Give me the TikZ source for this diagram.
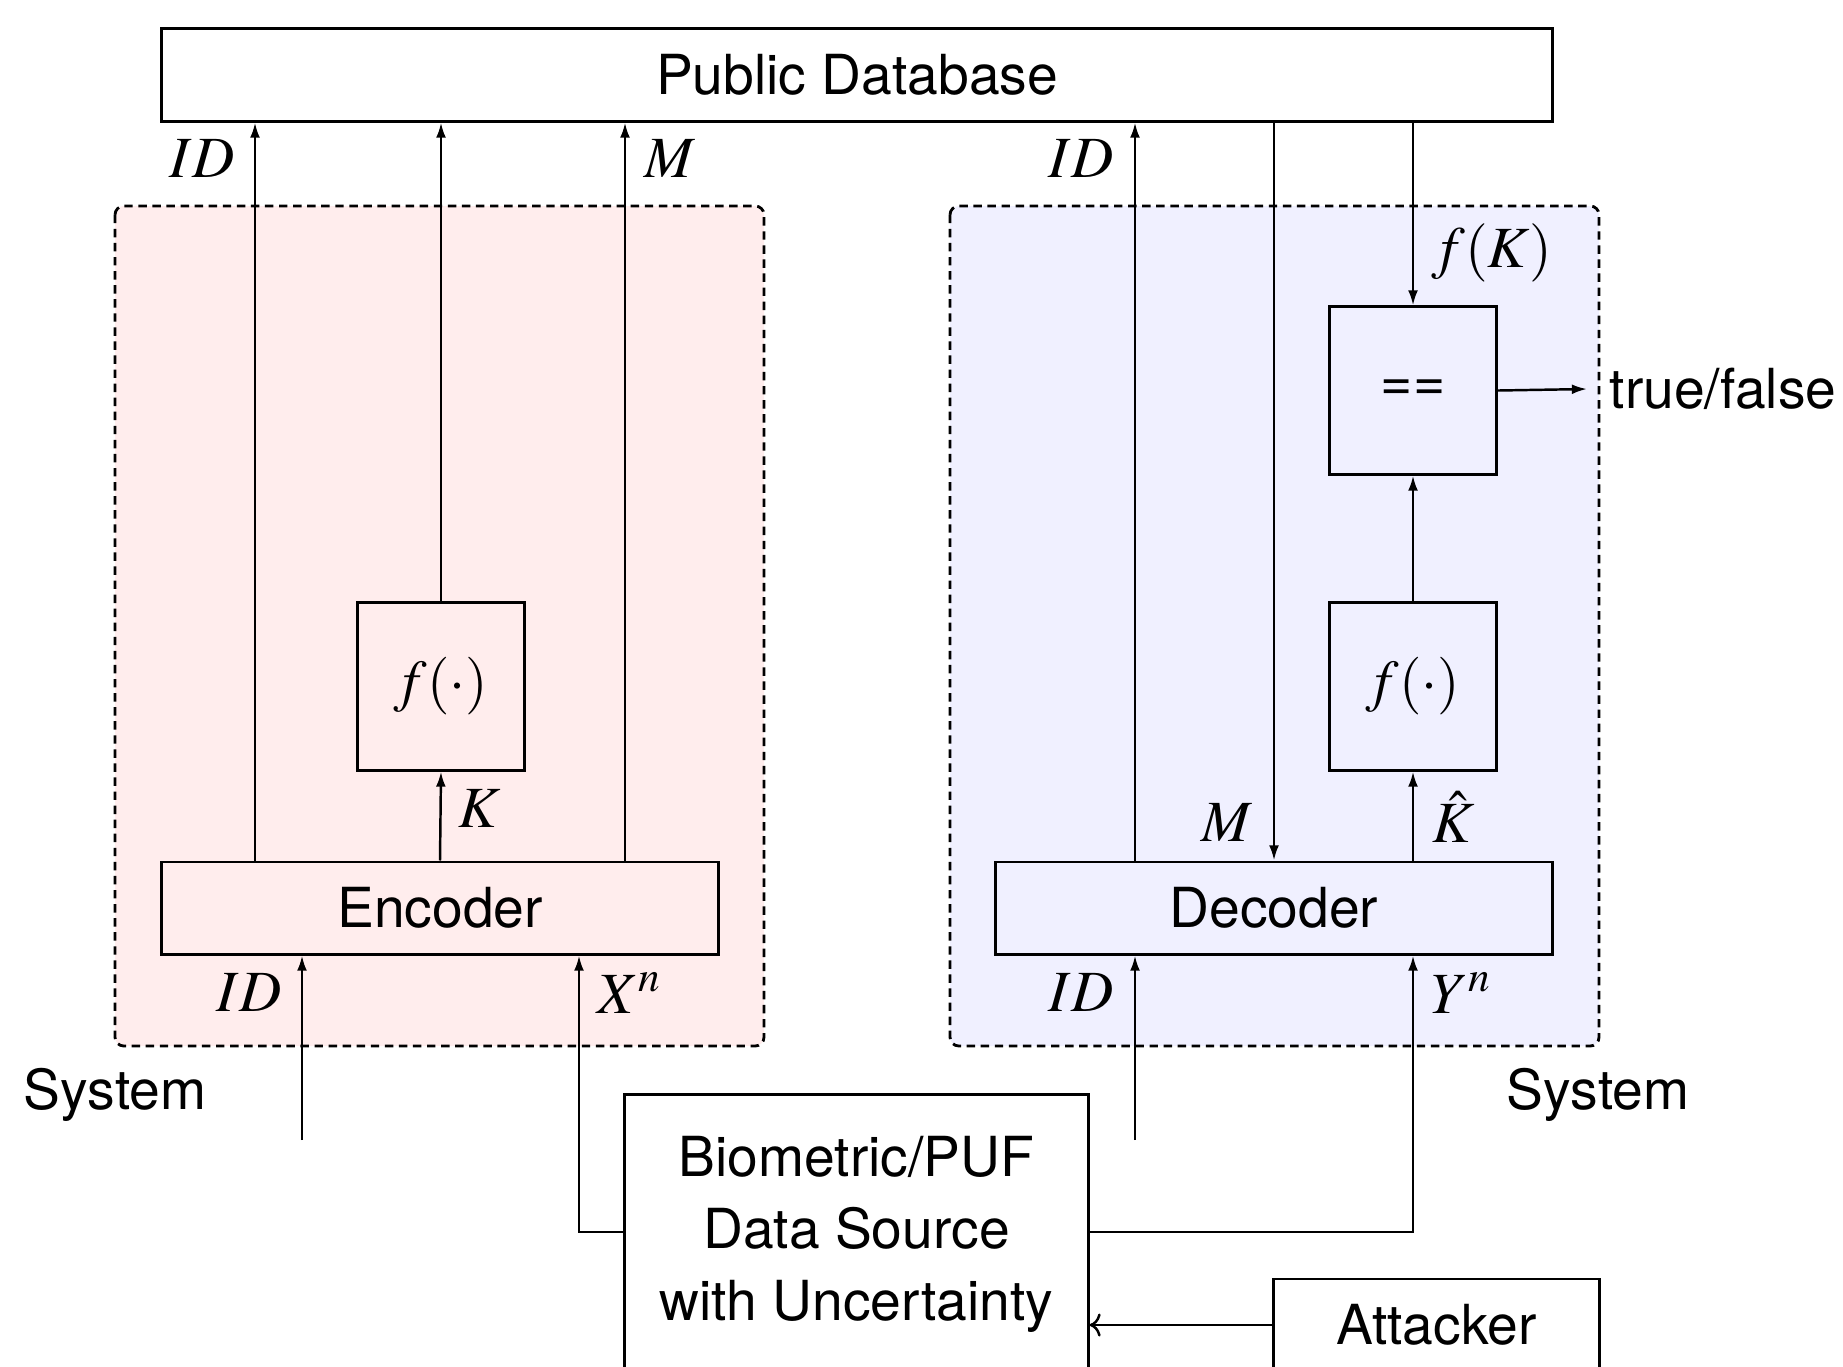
\documentclass[tikz,border=0pt]{standalone}
\usepackage{mathptmx}
\usepackage[no-math]{fontspec}
\setmainfont{TeX Gyre Heros}
\usetikzlibrary{arrows.meta,positioning}

\tikzset{
  blk/.style={draw, line width=0.85pt, inner sep=0pt},
  sig/.style={line width=0.7pt, -{Latex[length=4.3pt,width=2.8pt]}},
  wire/.style={line width=0.7pt},
  sysbox/.style={draw, dashed, dash pattern=on 2.4pt off 1.6pt, line width=0.8pt, rounded corners=2.5pt},
  lbl/.style={inner sep=0pt, font=\fontsize{16.6}{20}\selectfont}
}

\begin{document}
\begin{tikzpicture}[x=0.01cm, y=-0.01cm, font=\fontsize{15.7}{20.5}\selectfont]
\useasboundingbox (0,0) rectangle (1843,1366);
\clip (0,0) rectangle (1843,1366);

% systeme (pozadi)
\draw[sysbox, fill=red!7] (115,206) rectangle (764,1046);
\draw[sysbox, fill=blue!6] (950,206) rectangle (1599,1046);

% bloky
\node[blk, fill=white, minimum width=13.9cm, minimum height=0.92cm] (pubdb) at (857,75) {Public Database};
\node[blk, minimum width=5.56cm, minimum height=0.92cm] (enc) at (440,908) {Encoder};
\node[blk, minimum width=1.67cm, minimum height=1.67cm] (fenc) at (441,686.5) {\fontsize{16.4}{20}\selectfont$f(\cdot)$};
\node[blk, minimum width=5.56cm, minimum height=0.92cm] (dec) at (1274,908) {Decoder};
\node[blk, minimum width=1.67cm, minimum height=1.67cm] (fdec) at (1413,686.5) {\fontsize{16.4}{20}\selectfont$f(\cdot)$};
\node[blk, minimum width=1.67cm, minimum height=1.67cm] (cmp) at (1413,390.5) {==};
\node[blk, anchor=north, minimum width=4.63cm, minimum height=4cm] (src) at (856.5,1093) {};
\node[align=center, inner sep=0pt] (srctxt) at (856.5,1234) {Biometric/PUF\\Data Source\\with Uncertainty};
\node[blk, minimum width=3.25cm, minimum height=0.92cm] (att) at (1436.5,1325) {Attacker};

% pomocne body
\coordinate (idL) at (255,0);
\coordinate (mL) at (625,0);
\coordinate (idR) at (1135,0);
\coordinate (mR) at (1274,0);
\coordinate (idenc) at (302,1140);
\coordinate (iddec) at (1135,1140);
\coordinate (xn) at (579,1232);
\coordinate (out) at (1587,389);

% ... enkoder -> databaze
\draw[sig] (enc.north -| idL) -- (pubdb.south -| idL);
\draw[sig] (enc.north) -- (fenc.south);
\draw[sig] (fenc.north) -- (pubdb.south -| fenc.north);
\draw[sig] (enc.north -| mL) -- (pubdb.south -| mL);

% ... vstupy enkoderu
\draw[sig] (idenc) -- (enc.south -| idenc);
\draw[sig] (src.west |- xn) -- (xn) -- (enc.south -| xn);

% ... dekoder
\draw[sig] (dec.north -| idR) -- (pubdb.south -| idR);
\draw[sig] (pubdb.south -| mR) -- (dec.north -| mR);
\draw[sig] (pubdb.south -| cmp.north) -- (cmp.north);
\draw[sig] (dec.north -| fdec.south) -- (fdec.south);
\draw[sig] (fdec.north) -- (cmp.south);
\draw[sig] (cmp.east) -- (out);

% ... vstupy dekoderu
\draw[sig] (iddec) -- (dec.south -| iddec);
\draw[sig] (src.east |- xn) -- (xn -| fdec.south) -- (dec.south -| fdec.south);

% utocnik
\draw[wire, ->] (att.west) -- (src.east |- att.west);

% popisky
\node[lbl] (lidL) at (202,159) {$ID$};
\node[lbl] (lmL) at (670,159) {$M$};
\node[lbl] (lidR) at (1081,159) {$ID$};
\node[lbl] (lfk) at (1492,253) {$f(K)$};
\node[lbl] (lk) at (480,809) {$K$};
\node[lbl] (lmR) at (1227,823) {$M$};
\node[lbl] (lkh) at (1454,817) {$\hat{K}$};
\node[lbl] (lidenc) at (249,993) {$ID$};
\node[lbl] (lxn) at (630,993) {$X^n$};
\node[lbl] (liddec) at (1081,993) {$ID$};
\node[lbl] (lyn) at (1462,993) {$Y^n$};
\node[inner sep=0pt, anchor=west] (ltf) at (1609,389) {true/false};
\node[inner sep=0pt] (sysL) at (115,1095) {System};
\node[inner sep=0pt] (sysR) at (1598,1095) {System};

\end{tikzpicture}
\end{document}
